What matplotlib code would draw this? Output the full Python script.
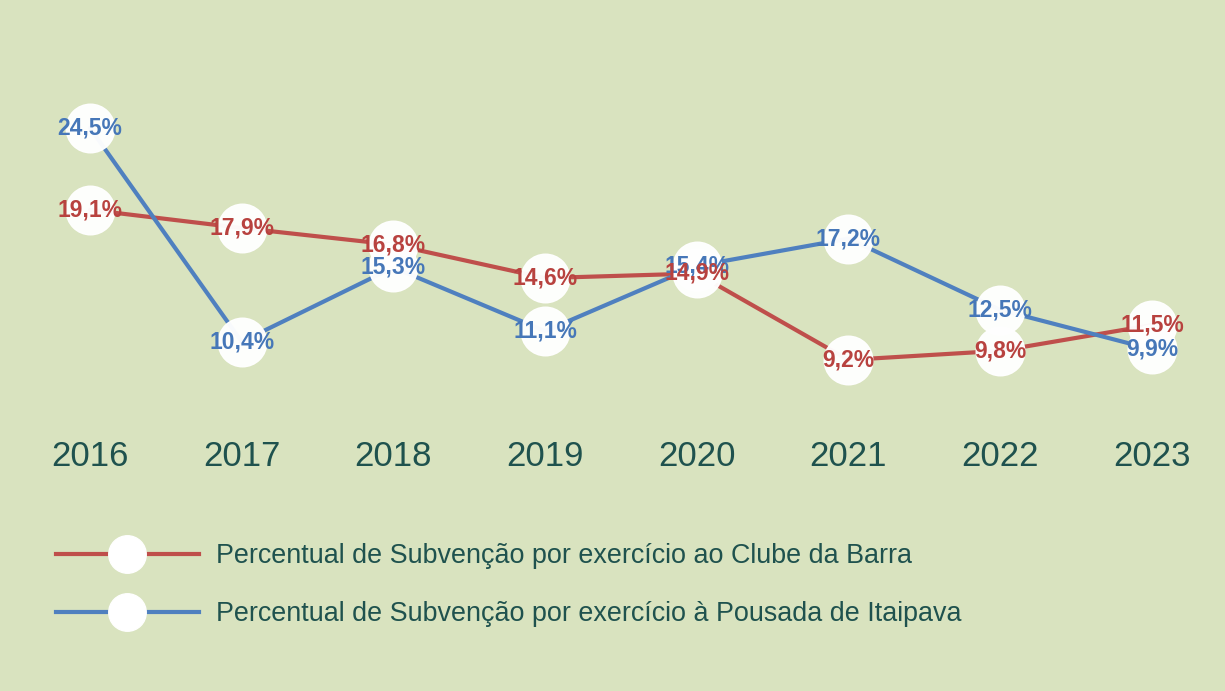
import matplotlib
matplotlib.use("Agg")
import matplotlib.pyplot as plt
from matplotlib.lines import Line2D

# data
years = ["2016", "2017", "2018", "2019", "2020", "2021", "2022", "2023"]
clube_barra = [19.1, 17.9, 16.8, 14.6, 14.9, 9.2, 9.8, 11.5]
pousada_itaipava = [24.5, 10.4, 15.3, 11.1, 15.4, 17.2, 12.5, 9.9]

label_red = "Percentual de Subvenção por exercício ao Clube da Barra"
label_blue = "Percentual de Subvenção por exercício à Pousada de Itaipava"

bg = "#d9e3bf"
red = "#bf4f4b"
blue = "#4f80bf"
red_txt = "#b8423f"
blue_txt = "#4677b8"
dark = "#1f524e"

plt.rcParams["font.family"] = ["Liberation Sans", "DejaVu Sans"]

fig = plt.figure(figsize=(12.25, 6.91), dpi=100, facecolor=bg)
ax = fig.add_axes([0, 0, 1, 1])
ax.set_facecolor(bg)
ax.axis("off")

x = list(range(len(years)))

# lines first, then the white circles, then the value labels
ax.plot(x, clube_barra, color=red, lw=3.0, zorder=2, solid_capstyle="round")
ax.plot(x, pousada_itaipava, color=blue, lw=3.0, zorder=2, solid_capstyle="round")
for series in (pousada_itaipava, clube_barra):
    ax.plot(x, series, "o", ms=35, mfc="white", mec="white", alpha=0.97, zorder=3)


def fmt(v):
    return f"{v:.1f}".replace(".", ",") + "%"


for series, col in ((pousada_itaipava, blue_txt), (clube_barra, red_txt)):
    for xi, v in zip(x, series):
        ax.text(xi, v, fmt(v), color=col, fontsize=16.5, fontweight="bold",
                ha="center", va="center", zorder=4)

# year labels under the lines
for xi, yr in zip(x, years):
    ax.text(xi, 2.8, yr, color=dark, fontsize=25, ha="center", va="center")

ax.set_xlim(-0.593, 7.482)
ax.set_ylim(-12.64, 32.94)

handles = [
    Line2D([], [], color=red, lw=3.0, marker="o", ms=27, mfc="white", mec="white"),
    Line2D([], [], color=blue, lw=3.0, marker="o", ms=27, mfc="white", mec="white"),
]
leg = fig.legend(handles, [label_red, label_blue], loc="upper left",
                 bbox_to_anchor=(56 / 1225, 1 - 543 / 691), frameon=False,
                 fontsize=19.4, handlelength=5.3, handletextpad=0.63,
                 labelspacing=1.2, borderpad=0, borderaxespad=0, numpoints=1)
for t in leg.get_texts():
    t.set_color(dark)

fig.savefig("out.png", dpi=100, facecolor=bg)
